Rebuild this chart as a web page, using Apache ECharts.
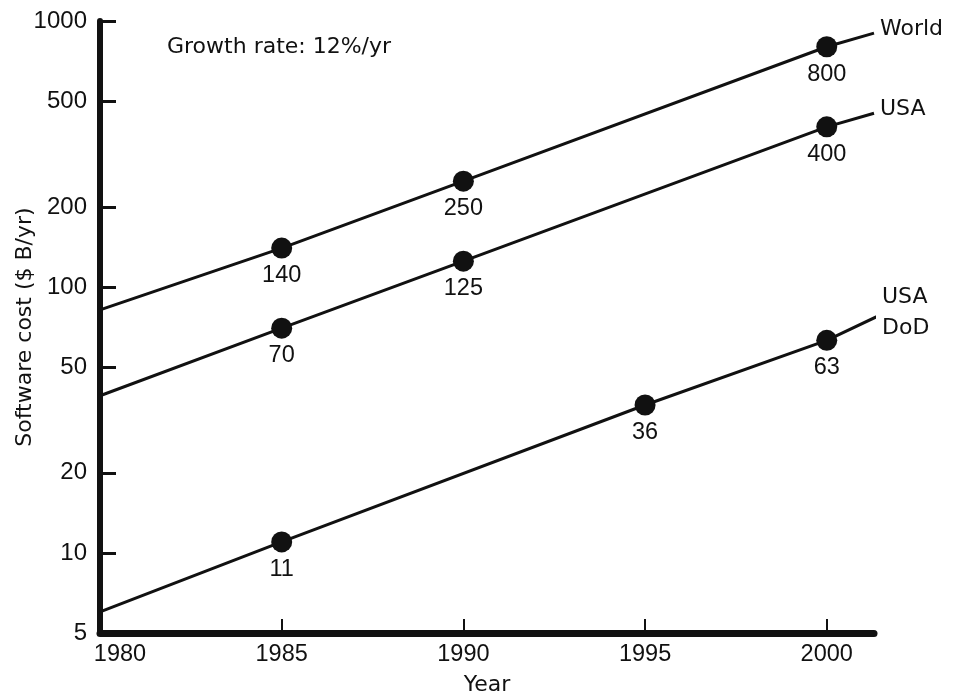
<!DOCTYPE html>
<html>
<head>
<meta charset="utf-8">
<script src="https://cdn.jsdelivr.net/npm/echarts@6/dist/echarts.min.js"></script>
<style>
  html, body { margin: 0; padding: 0; background: #fff; }
  #chart { width: 954px; height: 694px; }
</style>
</head>
<body>
<div id="chart"></div>
<script>
// Software cost estimates ($ billions per year), log scale
const yearTicks = [1980, 1985, 1990, 1995, 2000];
const costTicks = [5, 10, 20, 50, 100, 200, 500, 1000];

const worldYears = [1985, 1990, 2000];
const worldCost = [140, 250, 800];
const worldStart = [1980, 82];
const worldEnd = [2001.3, 900];

const usaYears = [1985, 1990, 2000];
const usaCost = [70, 125, 400];
const usaStart = [1980, 39];
const usaEnd = [2001.3, 450];

const dodYears = [1985, 1995, 2000];
const dodCost = [11, 36, 63];
const dodStart = [1980, 6];
const dodEnd = [2001.6, 80];

const seriesNames = ['World', 'USA', 'USA\nDoD'];

const NUM_FONT = 'Liberation Sans';
const WORD_FONT = 'DejaVu Sans';
const INK = '#111';

function pairs(xs, ys) {
  return xs.map((x, i) => [x, ys[i]]);
}

function trendLine(name, start, xs, ys, end) {
  return {
    type: 'line',
    name: name,
    data: [start].concat(pairs(xs, ys), [end]),
    symbol: 'none',
    clip: false,
    lineStyle: { color: INK, width: 3 },
    endLabel: {
      show: true,
      formatter: '{a}',
      color: INK,
      fontFamily: WORD_FONT,
      fontSize: 22,
      lineHeight: 31,
      distance: 6,
      offset: [0, -4]
    },
    z: 2
  };
}

function dots(xs, ys) {
  return {
    type: 'scatter',
    data: pairs(xs, ys),
    symbol: 'circle',
    symbolSize: 21,
    itemStyle: { color: INK, opacity: 1 },
    label: {
      show: true,
      position: 'bottom',
      distance: 5,
      formatter: p => String(p.value[1]),
      color: INK,
      fontFamily: NUM_FONT,
      fontSize: 23.5
    },
    z: 3
  };
}

const chart = echarts.init(document.getElementById('chart'));
chart.setOption({
  animation: false,
  backgroundColor: '#fff',
  textStyle: { fontFamily: NUM_FONT },
  title: {
    text: 'Growth rate: 12%/yr',
    left: 162,
    top: 31,
    textStyle: { fontFamily: WORD_FONT, fontSize: 22, fontWeight: 'normal', color: INK }
  },
  grid: { left: 100, right: 80, top: 21, bottom: 61, containLabel: false, outerBoundsMode: 'none' },
  xAxis: {
    type: 'value',
    min: 1980,
    max: 2001.3,
    interval: 5,
    name: 'Year',
    nameLocation: 'middle',
    nameGap: 41,
    nameMoveOverlap: false,
    nameTextStyle: { fontFamily: WORD_FONT, fontSize: 22, color: INK },
    axisLine: { lineStyle: { color: INK, width: 7 } },
    axisTick: { inside: true, length: 14, customValues: yearTicks, lineStyle: { color: INK, width: 2 } },
    axisLabel: {
      customValues: yearTicks,
      margin: 10,
      color: INK,
      fontFamily: NUM_FONT,
      fontSize: 23.5,
      formatter: v => (v === 1980 ? '{first|1980}' : String(v)),
      rich: { first: { padding: [0, 0, 0, 40], fontSize: 23.5, fontFamily: NUM_FONT, color: INK } }
    },
    splitLine: { show: false }
  },
  yAxis: {
    type: 'log',
    logBase: 10,
    min: 5,
    max: 1000,
    name: 'Software cost ($ B/yr)',
    nameLocation: 'middle',
    nameGap: 64,
    nameMoveOverlap: false,
    nameTextStyle: { fontFamily: WORD_FONT, fontSize: 22, color: INK },
    axisLine: { lineStyle: { color: INK, width: 6 } },
    axisTick: { inside: true, length: 16, customValues: costTicks, lineStyle: { color: INK, width: 3 } },
    axisLabel: {
      customValues: costTicks,
      margin: 13,
      color: INK,
      fontFamily: NUM_FONT,
      fontSize: 24,
      formatter: v => String(Math.round(v))
    },
    splitLine: { show: false }
  },
  series: [
    trendLine(seriesNames[0], worldStart, worldYears, worldCost, worldEnd),
    trendLine(seriesNames[1], usaStart, usaYears, usaCost, usaEnd),
    trendLine(seriesNames[2], dodStart, dodYears, dodCost, dodEnd),
    dots(worldYears, worldCost),
    dots(usaYears, usaCost),
    dots(dodYears, dodCost)
  ]
});
</script>
</body>
</html>
